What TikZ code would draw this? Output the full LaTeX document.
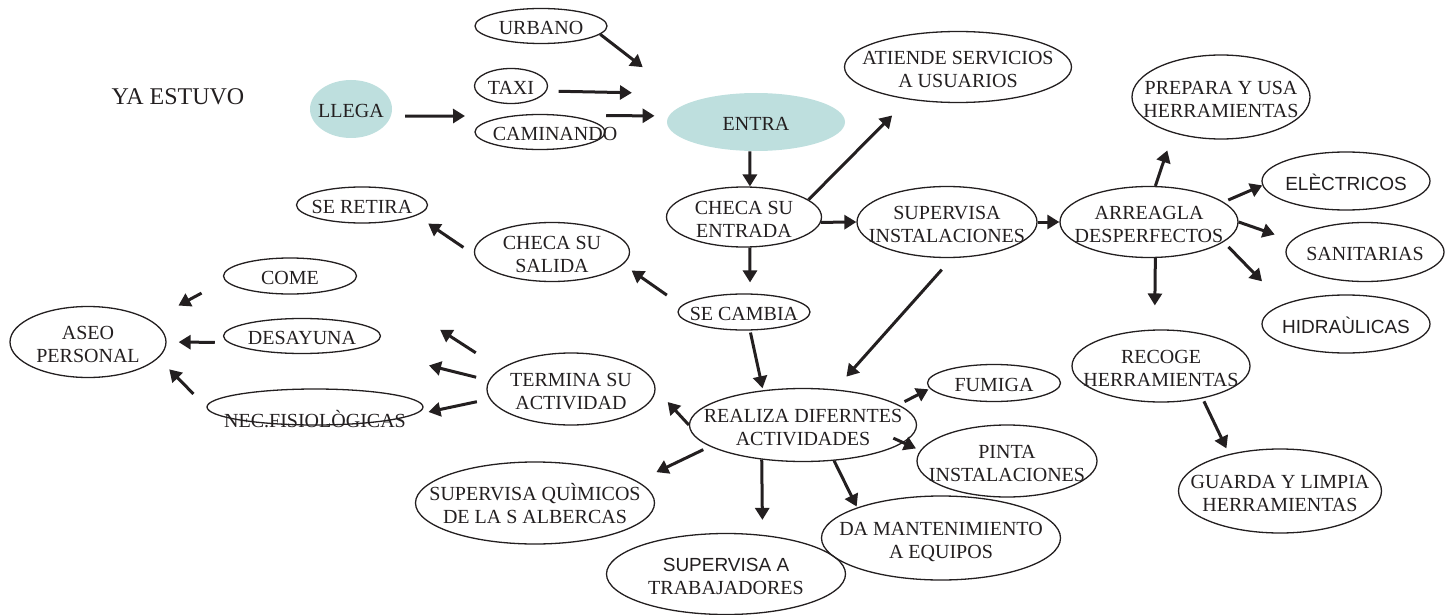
\documentclass[tikz,border=0pt]{standalone}
\usepackage{fontspec}
\setmainfont{Liberation Serif}
\newfontfamily\palo{Liberation Sans}
\usetikzlibrary{shapes.geometric,arrows.meta}
\definecolor{tinta}{RGB}{35,31,32}
\definecolor{celeste}{RGB}{190,223,222}
% texto centrado que no agranda la elipse
\newcommand{\bt}[2][-4.5pt]{\makebox[0pt]{\raisebox{#1}[0pt][0pt]{\begin{tabular}{@{}c@{}}#2\end{tabular}}}}

\begin{document}
\begin{tikzpicture}[x=0.5pt, y=-0.5pt]
  \tikzstyle{burbuja}=[ellipse, draw=tinta, line width=0.65pt, inner sep=0pt, text=tinta, font=\fontsize{10}{11.5}\selectfont]
  \tikzstyle{clave}=[ellipse, fill=celeste, inner sep=0pt, text=tinta, font=\fontsize{10}{11.5}\selectfont]
  \tikzstyle{palo}=[font=\palo\fontsize{9.5}{11.5}\selectfont]
  \tikzstyle{flecha}=[-{Triangle[length=6pt,width=7pt]}, line width=1.5pt, draw=tinta]

  \useasboundingbox (0,0) rectangle (1445,615);

  % Llegada
  \node[text=tinta, font=\fontsize{12}{14}\selectfont] (ya) at (178,97) {YA ESTUVO};
  \node[clave, minimum width=41pt, minimum height=29pt] (llega) at (351,109) {\bt{LLEGA}};
  \node[burbuja, minimum width=66pt, minimum height=17.5pt] (urbano) at (541,26) {\bt{URBANO}};
  \node[burbuja, minimum width=36.5pt, minimum height=17.5pt] (taxi) at (511,86) {\bt{TAXI}};
  \node[burbuja, minimum width=65pt, minimum height=17.5pt] (caminando) at (540,132) {\bt{\hspace*{15pt}CAMINANDO}};
  \coordinate (medio) at (465,116);
  \node[clave, minimum width=89pt, minimum height=29pt] (entra) at (756,122) {\bt{ENTRA}};

  % Centro
  \node[burbuja, minimum width=113.5pt, minimum height=35.5pt] (atiende) at (958,67) {\bt{ATIENDE SERVICIOS\\A USUARIOS}};
  \node[burbuja, minimum width=77.5pt, minimum height=30pt] (chkin) at (744,217) {\bt{CHECA SU\\ENTRADA}};
  \node[burbuja, minimum width=90pt, minimum height=35.5pt] (supinst) at (947,222) {\bt{SUPERVISA\\INSTALACIONES}};
  \node[burbuja, minimum width=66pt, minimum height=18pt] (secambia) at (744,312) {\bt{SE CAMBIA}};
  \node[burbuja, minimum width=77.5pt, minimum height=29.5pt] (chkout) at (552,252) {\bt{CHECA SU\\SALIDA}};
  \node[burbuja, minimum width=65.5pt, minimum height=18pt] (retira) at (362,205) {\bt{SE RETIRA}};

  % Desperfectos
  \node[burbuja, minimum width=89pt, minimum height=35.5pt] (arregla) at (1149,222) {\bt{ARREAGLA\\DESPERFECTOS}};
  \node[burbuja, minimum width=89pt, minimum height=42pt] (prepara) at (1221,97) {\bt{PREPARA Y USA\\HERRAMIENTAS}};
  \node[burbuja, palo, minimum width=84pt, minimum height=29pt] (electricos) at (1346,181) {\bt{ELÈCTRICOS}};
  \node[burbuja, minimum width=79pt, minimum height=29.5pt] (sanitarias) at (1365,252) {\bt{SANITARIAS}};
  \node[burbuja, palo, minimum width=84pt, minimum height=29pt] (hidraulicas) at (1346,324) {\bt{HIDRAÙLICAS}};
  \node[burbuja, minimum width=89pt, minimum height=36pt] (recoge) at (1161,366) {\bt{RECOGE\\HERRAMIENTAS}};
  \node[burbuja, minimum width=101.5pt, minimum height=42pt] (guarda) at (1280,491) {\bt{GUARDA Y LIMPIA\\HERRAMIENTAS}};

  % Actividades
  \node[burbuja, minimum width=113.5pt, minimum height=36.5pt] (realiza) at (803,425) {\bt{REALIZA DIFERNTES\\ACTIVIDADES}};
  \node[burbuja, minimum width=66.5pt, minimum height=18.5pt] (fumiga) at (994,383) {\bt{FUMIGA}};
  \node[burbuja, minimum width=90pt, minimum height=36pt] (pinta) at (1007,461) {\bt{PINTA\\INSTALACIONES}};
  \node[burbuja, minimum width=119.5pt, minimum height=42pt] (damant) at (941,538) {\bt{DA MANTENIMIENTO\\A EQUIPOS}};
  \node[burbuja, minimum width=119.5pt, minimum height=40.5pt] (suptrab) at (726,574) {\bt{{\palo\fontsize{9.5}{11.5}\selectfont SUPERVISA A}\\TRABAJADORES}};
  \node[burbuja, minimum width=119.5pt, minimum height=41pt] (quimicos) at (535,503) {\bt{SUPERVISA QUÌMICOS\\DE LA S ALBERCAS}};
  \node[burbuja, minimum width=84pt, minimum height=36pt] (termina) at (571,389) {\bt{TERMINA SU\\ACTIVIDAD}};

  % Aseo
  \node[burbuja, minimum width=66.5pt, minimum height=18pt] (come) at (290,276) {\bt{COME}};
  \node[burbuja, minimum width=78.5pt, minimum height=17.5pt] (desayuna) at (302,336) {\bt{DESAYUNA}};
  \node[burbuja, minimum width=108pt, minimum height=18pt] (nec) at (315,407) {\bt[-10pt]{NEC.FISIOLÒGICAS}};
  \node[burbuja, minimum width=78pt, minimum height=35.5pt] (aseo) at (88,342) {\bt{ASEO\\PERSONAL}};

  % Flechas de llegada
  \draw[flecha, shorten <=7pt] (llega.-10) -- (medio);
  \draw[flecha, shorten >=29pt] (urbano.-8) -- (entra.164);
  \draw[flecha, shorten <=6pt, shorten >=45.75pt] (taxi.-8) -- (entra.140);
  \draw[flecha, shorten <=19.4pt, shorten >=7pt] (caminando.31) -- (entra.176);
  \draw[flecha] (entra.-102) -- (chkin.79);

  % Flechas del centro
  \draw[flecha, shorten >=11.25pt] (chkin.15) -- (atiende.213);
  \draw[flecha] (chkin.-4) -- (supinst.180);
  \draw[flecha, shorten >=5.5pt] (chkin.-79) -- (secambia.72);
  \draw[flecha, shorten <=9pt, shorten >=5.2pt] (secambia.174) -- (chkout.-10);
  \draw[flecha, shorten <=6.5pt, shorten >=7.1pt] (chkout.182) -- (retira.-11);
  \draw[flecha, shorten <=1pt, shorten >=1pt] (secambia.-72) -- (realiza.139);
  \draw[flecha, shorten <=7.75pt, shorten >=8.5pt] (supinst.-82) -- (realiza.48);
  \draw[flecha] (supinst.east) -- (arregla.west);

  % Flechas de desperfectos
  \draw[flecha, shorten >=9.15pt] (arregla.80) -- (prepara.-143);
  \draw[flecha, shorten <=2.5pt] (arregla.15) -- (electricos.183);
  \draw[flecha, shorten >=8.9pt] (arregla.east) -- (sanitarias.171);
  \draw[flecha, shorten <=3.4pt, shorten >=15.7pt] (arregla.-15) -- (hidraulicas.162);
  \draw[flecha, shorten >=12pt] (arregla.-80) -- (recoge.100);
  \draw[flecha, shorten <=1.6pt, shorten >=3.1pt] (recoge.-38) -- (guarda.144);

  % Flechas de actividades
  \draw[flecha, shorten >=8.85pt] (realiza.west) -- (termina.east);
  \draw[flecha, shorten <=3.35pt, shorten >=0.75pt] (realiza.12) -- (fumiga.185);
  \draw[flecha, shorten <=-5.5pt, shorten >=2.35pt] (realiza.-10) -- (pinta.173);
  \draw[flecha, shorten >=0.5pt] (realiza.-49) -- (damant.160);
  \draw[flecha, shorten >=7.45pt] (realiza.-140) -- (suptrab.47);
  \draw[flecha, shorten <=3.65pt, shorten >=10.5pt] (realiza.193) -- (quimicos.12);

  % Flechas de aseo
  \draw[flecha, shorten <=14.7pt, shorten >=49.4pt] (termina.164) -- (come.east);
  \draw[flecha, shorten <=6.5pt, shorten >=35.5pt] (termina.174) -- (desayuna.-12);
  \draw[flecha, shorten <=6.5pt, shorten >=8.5pt] (termina.187) -- (nec.-5);
  \draw[flecha, shorten <=13.25pt, shorten >=15.6pt] (come.184) -- (aseo.19);
  \draw[flecha, shorten <=6.65pt, shorten >=6pt] (desayuna.185) -- (aseo.east);
  \draw[flecha, shorten <=9.2pt, shorten >=7.8pt] (nec.west) -- (aseo.-13);
\end{tikzpicture}
\end{document}
